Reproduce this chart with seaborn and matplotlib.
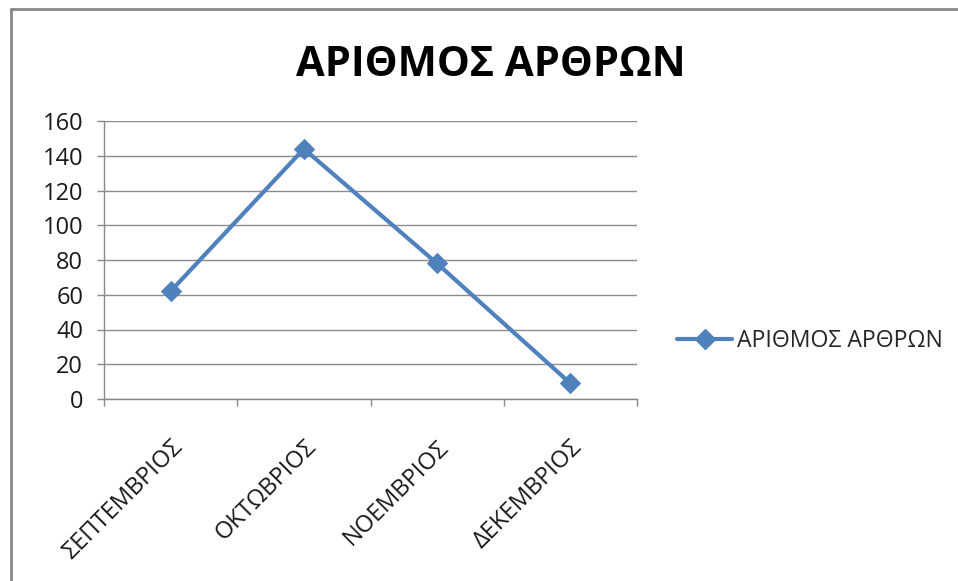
import matplotlib
matplotlib.use("Agg")
import matplotlib.pyplot as plt
from matplotlib.lines import Line2D
import seaborn as sns
import pandas as pd

months = ["ΣΕΠΤΕΜΒΡΙΟΣ", "ΟΚΤΩΒΡΙΟΣ", "ΝΟΕΜΒΡΙΟΣ", "ΔΕΚΕΜΒΡΙΟΣ"]
articles = [62, 144, 78, 9]
series_name = "ΑΡΙΘΜΟΣ ΑΡΘΡΩΝ"
yticks = [0, 20, 40, 60, 80, 100, 120, 140, 160]

sns.set_theme(style="white")
plt.rcParams["font.family"] = ["Open Sans", "DejaVu Sans"]

df = pd.DataFrame({"month": months, "value": articles, "series": series_name})
df["pos"] = range(len(months))

fig = plt.figure(figsize=(9.58, 5.81), dpi=100)
ax = fig.add_axes([104 / 958, (581 - 399) / 581, (637 - 104) / 958, (399 - 121) / 581])

color = "#4F81BD"
sns.lineplot(data=df, x="pos", y="value", hue="series", palette=[color],
             marker="D", markersize=10, linewidth=3, markeredgecolor=color,
             sort=False, ax=ax, legend=False)

ax.set_xlim(-0.5, len(months) - 0.5)
ax.set_ylim(0, 160)
ax.set_yticks(yticks)
ax.set_yticklabels([str(t) for t in yticks], fontsize=17, color="#1a1a1a")
ax.set_xticks(range(len(months)))
ax.set_xticklabels(months, rotation=45, ha="right", rotation_mode="anchor",
                   fontsize=17, color="#1a1a1a")
ax.set_xticks([i - 0.5 for i in range(len(months) + 1)], minor=True)
ax.tick_params(axis="x", which="major", length=0, pad=26)
ax.tick_params(axis="x", which="minor", length=5, width=1, color="#888888", direction="out", bottom=True)
ax.tick_params(axis="y", which="major", length=5, width=1, color="#888888", direction="out", left=True, pad=10)
ax.grid(axis="y", color="#8c8c8c", linewidth=1)
ax.grid(axis="x", visible=False)
ax.set_xlabel("")
ax.set_ylabel("")
for side in ["top", "right"]:
    ax.spines[side].set_visible(False)
for side in ["left", "bottom"]:
    ax.spines[side].set_color("#888888")
    ax.spines[side].set_linewidth(1)

ax.legend(handles=[Line2D([], [], color=color, marker="D", markersize=10, linewidth=3)],
          labels=[series_name], loc="center left", bbox_to_anchor=(1.036, 0.21),
          frameon=False, fontsize=16.6, handlelength=2.4, handletextpad=0.2)

fig.text(0.512, 0.888, series_name, ha="center", va="center", fontsize=30, fontweight="bold",
         color="black")

# chart-area border (top and left edges visible in reference)
fig.add_artist(Line2D([10.5 / 958, 1.0], [1 - 9 / 581, 1 - 9 / 581], transform=fig.transFigure,
                      color="#888888", linewidth=2))
fig.add_artist(Line2D([10.5 / 958, 10.5 / 958], [0, 1 - 9 / 581], transform=fig.transFigure,
                      color="#888888", linewidth=2))

fig.savefig("out.png", dpi=100, facecolor="white")
